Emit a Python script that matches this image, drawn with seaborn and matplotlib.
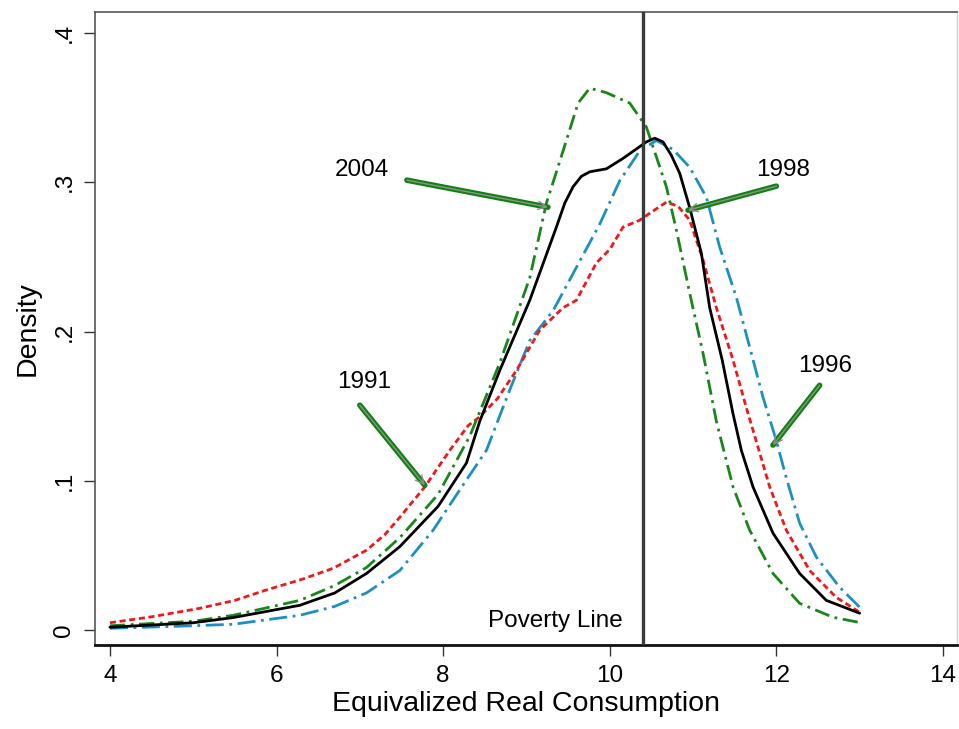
import matplotlib
matplotlib.use("Agg")
import matplotlib.pyplot as plt
import seaborn as sns
import pandas as pd

# ---- data ----
x_1991 = [4.0, 4.5, 5.08, 5.5, 5.88, 6.3, 6.68, 7.08, 7.3, 7.48, 7.78, 8.08, 8.3, 8.44, 8.65, 8.88,
          9.16, 9.44, 9.60, 9.84, 10.0, 10.16, 10.36, 10.5, 10.68, 10.82, 10.96, 11.12, 11.28,
          11.48, 11.64, 11.72, 11.92, 12.12, 12.40, 12.72, 13.0]
y_1991 = [0.005, 0.009, 0.0147, 0.020, 0.027, 0.034, 0.0415, 0.0536, 0.064, 0.0757, 0.096, 0.1205,
          0.137, 0.143, 0.155, 0.174, 0.201, 0.216, 0.221, 0.246, 0.255, 0.270, 0.2746, 0.280,
          0.2867, 0.284, 0.2746, 0.248, 0.216, 0.181, 0.149, 0.134, 0.096, 0.067, 0.040, 0.022, 0.012]

x_1996 = [4.0, 5.0, 5.48, 6.28, 6.7, 7.08, 7.48, 7.88, 8.2, 8.52, 8.80, 9.04, 9.32, 9.60, 9.88,
          10.12, 10.36, 10.56, 10.76, 10.96, 11.16, 11.32, 11.52, 11.68, 11.84, 12.0, 12.12,
          12.28, 12.48, 12.76, 13.0]
y_1996 = [0.0013, 0.003, 0.004, 0.010, 0.016, 0.025, 0.040, 0.067, 0.094, 0.1205, 0.161, 0.194,
          0.214, 0.243, 0.272, 0.301, 0.321, 0.328, 0.322, 0.310, 0.290, 0.2566, 0.223, 0.1896,
          0.156, 0.127, 0.102, 0.0717, 0.049, 0.0288, 0.0154]

x_1998 = [4.0, 5.0, 5.48, 6.28, 6.7, 7.08, 7.48, 7.94, 8.28, 8.44, 8.68, 9.04, 9.36, 9.46, 9.56,
          9.66, 9.76, 9.96, 10.16, 10.44, 10.54, 10.64, 10.74, 10.84, 10.96, 11.10, 11.20, 11.35,
          11.48, 11.58, 11.72, 11.96, 12.28, 12.60, 13.0]
y_1998 = [0.002, 0.005, 0.0085, 0.0167, 0.025, 0.038, 0.056, 0.083, 0.112, 0.140, 0.174, 0.221,
          0.270, 0.286, 0.297, 0.304, 0.307, 0.309, 0.316, 0.327, 0.3295, 0.327, 0.318, 0.306,
          0.283, 0.2525, 0.216, 0.181, 0.145, 0.1205, 0.096, 0.065, 0.038, 0.020, 0.0114]

x_2004 = [4.0, 5.0, 5.48, 6.28, 6.7, 7.08, 7.48, 7.94, 8.32, 8.68, 9.04, 9.24, 9.44, 9.62, 9.76,
          9.96, 10.24, 10.44, 10.68, 10.80, 10.96, 11.12, 11.28, 11.48, 11.68, 11.96, 12.28,
          12.68, 12.98]
y_2004 = [0.003, 0.006, 0.010, 0.020, 0.030, 0.042, 0.062, 0.091, 0.130, 0.179, 0.236, 0.286,
          0.321, 0.353, 0.363, 0.360, 0.353, 0.337, 0.297, 0.268, 0.2257, 0.1855, 0.140, 0.096,
          0.067, 0.038, 0.018, 0.0087, 0.0054]

poverty_line = 10.4
x_ticks = [4, 6, 8, 10, 12, 14]
y_ticks = [0, 0.1, 0.2, 0.3, 0.4]
y_tick_labels = ["0", ".1", ".2", ".3", ".4"]

# annotation labels: (text, text position, arrow start, arrow end)
labels = ["2004", "1998", "1991", "1996"]
label_pos = [(7.02, 0.308), (12.08, 0.308), (7.05, 0.166), (12.58, 0.177)]
arrow_start = [(7.565, 0.3014), (12.0, 0.2974), (7.0, 0.1507), (12.52, 0.164)]
arrow_end = [(9.258, 0.2833), (10.94, 0.2813), (7.78, 0.0971), (11.96, 0.124)]

# ---- build frame ----
frames = []
for yr, xs, ys in [("1991", x_1991, y_1991), ("1996", x_1996, y_1996),
                   ("1998", x_1998, y_1998), ("2004", x_2004, y_2004)]:
    frames.append(pd.DataFrame({"x": xs, "y": ys, "year": yr}))
df = pd.concat(frames, ignore_index=True)

sns.set_style("white")
plt.rcParams["font.family"] = ["Liberation Sans", "DejaVu Sans"]
plt.rcParams["text.color"] = "black"
plt.rcParams["axes.labelcolor"] = "black"
plt.rcParams["xtick.color"] = "black"
plt.rcParams["ytick.color"] = "black"

fig = plt.figure(figsize=(9.59, 7.29), dpi=100)
ax = fig.add_axes([0.099, 0.115, 0.899, 0.8685])

styles = {
    "1991": dict(color="#f01818", dashes=(2.2, 1.3)),
    "1996": dict(color="#1e90c0", dashes=(6.5, 2.0, 1.0, 2.0)),
    "1998": dict(color="#000000", dashes=None),
    "2004": dict(color="#1a861a", dashes=(5.5, 2.0, 1.0, 2.0)),
}
order = ["1996", "1991", "2004", "1998"]
for yr in order:
    sub = df[df["year"] == yr]
    st = styles[yr]
    sns.lineplot(data=sub, x="x", y="y", ax=ax, color=st["color"], lw=2.0,
                 estimator=None, sort=False, legend=False)
    ln = ax.lines[-1]
    ln.set_solid_joinstyle("round")
    ln.set_dash_joinstyle("round")
    if st["dashes"] is not None:
        ln.set_dashes(st["dashes"])

ax.axvline(poverty_line, color="#3a3a3a", lw=2.4, zorder=5)
ax.text(poverty_line - 0.24, 0.006, "Poverty Line", ha="right", va="center", fontsize=17.5)

for lab, tp, s, e in zip(labels, label_pos, arrow_start, arrow_end):
    ax.text(tp[0], tp[1], lab, ha="center", va="center", fontsize=17.5)
    ax.annotate("", xy=e, xytext=s,
                arrowprops=dict(arrowstyle="-", color="#0f820f", lw=4.0,
                                shrinkA=0, shrinkB=0))
    ax.annotate("", xy=e, xytext=s,
                arrowprops=dict(arrowstyle="->,head_length=0.6,head_width=0.3",
                                color="#909090", lw=1.0, shrinkA=0, shrinkB=0))

ax.set_xlim(3.82, 14.17)
ax.set_ylim(-0.010, 0.414)
ax.set_xticks(x_ticks)
ax.set_xticklabels([str(t) for t in x_ticks], fontsize=17.5)
ax.set_yticks(y_ticks)
ax.set_yticklabels(y_tick_labels, fontsize=17.5, rotation=90, va="center")
ax.tick_params(axis="both", direction="out", length=8, width=1.0, color="#333333",
               left=True, bottom=True, pad=6)
ax.set_xlabel("Equivalized Real Consumption", fontsize=20.5, labelpad=3)
ax.set_ylabel("Density", fontsize=20.5, labelpad=9)

for side in ["left", "top"]:
    ax.spines[side].set_color("#555555")
    ax.spines[side].set_linewidth(1.2)
ax.spines["right"].set_color("#d0d0d0")
ax.spines["right"].set_linewidth(1.0)
ax.spines["bottom"].set_color("#111111")
ax.spines["bottom"].set_linewidth(2.0)

fig.savefig("out.png", dpi=100, facecolor="white")
